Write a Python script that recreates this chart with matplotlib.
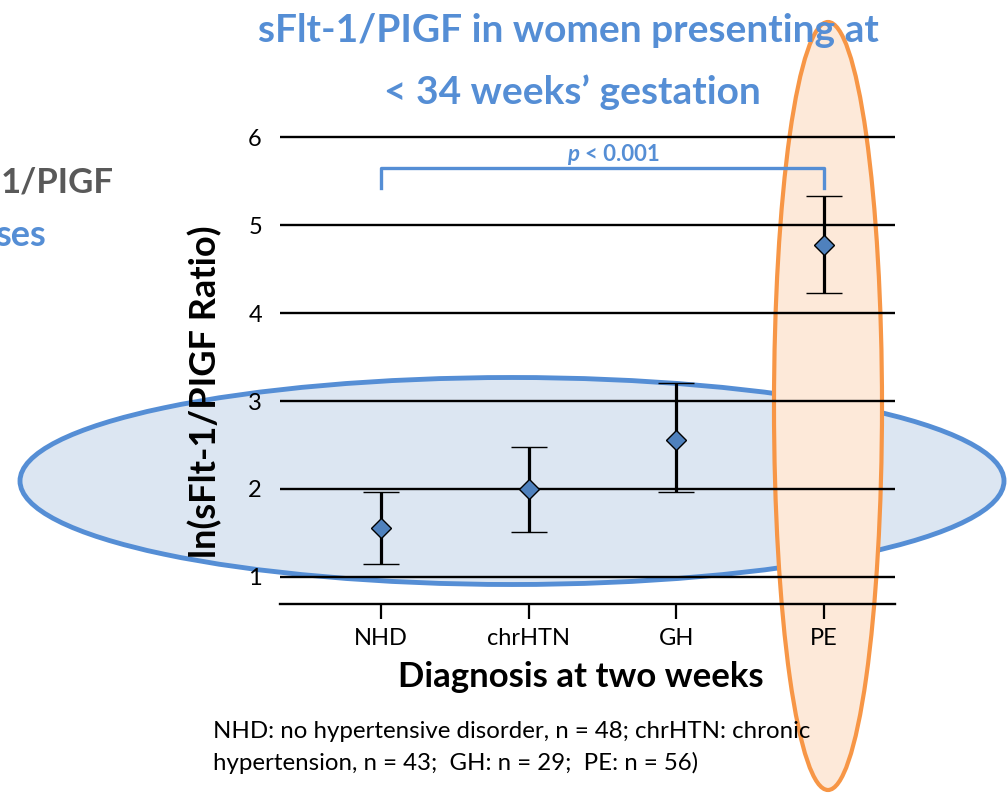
import matplotlib
matplotlib.use("Agg")
import matplotlib.pyplot as plt
from matplotlib.patches import Ellipse
import numpy as np

# ---- data ----
categories = ["NHD", "chrHTN", "GH", "PE"]
means = [1.56, 2.00, 2.56, 4.77]
upper = [1.97, 2.48, 3.20, 5.33]
lower = [1.15, 1.51, 1.97, 4.23]
yticks = [1, 2, 3, 4, 5, 6]
p_text = "< 0.001"

title_lines = ["sFlt-1/PIGF in women presenting at", "< 34 weeks\u2019 gestation"]
ylabel = "ln(sFlt-1/PIGF Ratio)"
xlabel = "Diagnosis at two weeks"
footnote = ["NHD: no hypertensive disorder, n = 48; chrHTN: chronic",
            "hypertension, n = 43;  GH: n = 29;  PE: n = 56)"]

plt.rcParams['font.family'] = ['Lato', 'DejaVu Sans']

BLUE = '#558ED5'
W, H = 1008, 794
fig = plt.figure(figsize=(W / 100, H / 100), dpi=100)


def fx(x):
    return x / W


def fy(y):
    return 1 - y / H


# background ellipses (figure coords)
blue_ell = Ellipse((fx(512), fy(481)), 984 / W, 207 / H, transform=fig.transFigure,
                   facecolor='#DCE6F2', edgecolor=BLUE, lw=3.5, zorder=1)
orange_ell = Ellipse((fx(828), fy(406)), 108 / W, 768 / H, transform=fig.transFigure,
                     facecolor='#FDE9D9', edgecolor='#F79646', lw=3, zorder=2)
fig.add_artist(blue_ell)
fig.add_artist(orange_ell)

ax = fig.add_axes([fx(280), fy(604), (895 - 280) / W, (604 - 130) / H])
ax.set_zorder(3)
ax.patch.set_visible(False)
ax.set_xlim(-0.684, 3.48)
ax.set_ylim(0.693, 6.08)

x = np.arange(len(categories))
m = np.array(means)
yerr = [m - np.array(lower), np.array(upper) - m]

for v in yticks:
    ax.axhline(v, color='black', lw=1.7, zorder=1)

ax.errorbar(x, m, yerr=yerr, fmt='D', color='black', ecolor='black', elinewidth=2.3,
            capsize=13, capthick=2.8, markersize=10.5, markerfacecolor='#4F81BD',
            markeredgecolor='black', markeredgewidth=1.0, zorder=4)

for s in ['top', 'right', 'left']:
    ax.spines[s].set_visible(False)
ax.spines['bottom'].set_linewidth(1.7)

ax.set_yticks(yticks)
ax.set_yticklabels([str(t) for t in yticks])
ax.tick_params(axis='y', length=0, pad=13, labelsize=17)
ax.set_xticks(x)
ax.set_xticklabels(categories)
ax.tick_params(axis='x', length=11, width=1.6, direction='out', pad=6, labelsize=17)

# significance bracket
ax.plot([0, 0, 3, 3], [5.42, 5.65, 5.65, 5.42], color=BLUE, lw=2.4, clip_on=False, zorder=5)
ax.text(1.26, 5.80, "p", color=BLUE, fontsize=16, fontweight='bold', fontstyle='italic',
        ha='left', va='center')
ax.text(1.38, 5.80, p_text, color=BLUE, fontsize=16, fontweight='bold', ha='left', va='center')

# titles and labels (figure coords)
fig.text(fx(568), fy(30), title_lines[0], ha='center', va='center', color=BLUE,
         fontsize=28, fontweight='bold', zorder=10)
fig.text(fx(572), fy(92), title_lines[1], ha='center', va='center', color=BLUE,
         fontsize=28, fontweight='bold', zorder=10)

fig.text(fx(114), fy(182), "1/PIGF", ha='right', va='center', color='#595959',
         fontsize=25, fontweight='bold', zorder=10)
fig.text(fx(46), fy(235), "ses", ha='right', va='center', color=BLUE,
         fontsize=26, fontweight='bold', zorder=10)

fig.text(fx(205), fy(392), ylabel, rotation=90, ha='center', va='center',
         fontsize=26, fontweight='bold', zorder=10)
fig.text(fx(581), fy(677), xlabel, ha='center', va='center',
         fontsize=25, fontweight='bold', zorder=10)

fig.text(fx(213), fy(732), footnote[0], ha='left', va='center', fontsize=17.3, zorder=10)
fig.text(fx(213), fy(763), footnote[1], ha='left', va='center', fontsize=17.3, zorder=10)

fig.savefig("out.png", dpi=100)
